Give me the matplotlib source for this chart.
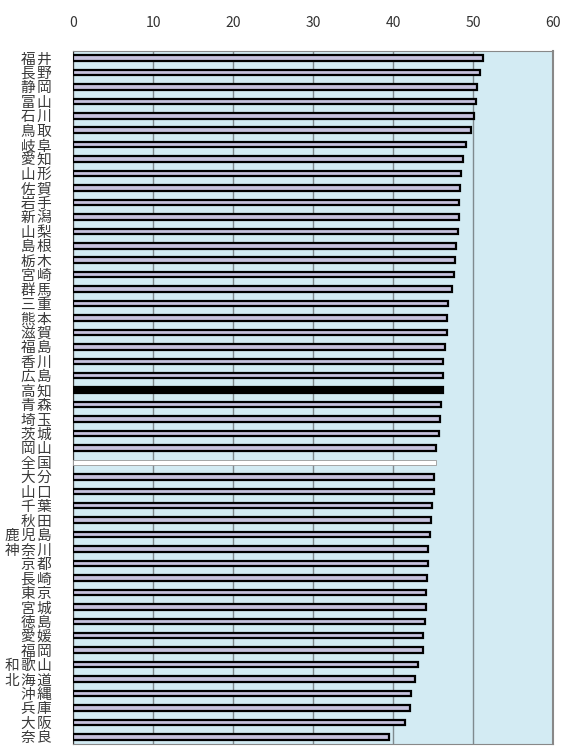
import matplotlib
matplotlib.use("Agg")
import matplotlib.pyplot as plt

plt.rcParams['font.family'] = ['Noto Sans CJK JP', 'DejaVu Sans']

# 都道府県と値
prefs = ["福井", "長野", "静岡", "富山", "石川", "鳥取", "岐阜", "愛知", "山形", "佐賀",
         "岩手", "新潟", "山梨", "島根", "栃木", "宮崎", "群馬", "三重", "熊本", "滋賀",
         "福島", "香川", "広島", "高知", "青森", "埼玉", "茨城", "岡山", "全国", "大分",
         "山口", "千葉", "秋田", "鹿児島", "神奈川", "京都", "長崎", "東京", "宮城", "徳島",
         "愛媛", "福岡", "和歌山", "北海道", "沖縄", "兵庫", "大阪", "奈良"]
values = [51.2, 50.9, 50.5, 50.4, 50.1, 49.7, 49.1, 48.7, 48.5, 48.4,
          48.2, 48.2, 48.1, 47.9, 47.7, 47.6, 47.4, 46.9, 46.8, 46.7,
          46.5, 46.3, 46.2, 46.2, 46.0, 45.9, 45.7, 45.4, 45.4, 45.1,
          45.1, 44.9, 44.7, 44.6, 44.4, 44.4, 44.3, 44.1, 44.1, 44.0,
          43.7, 43.7, 43.1, 42.7, 42.2, 42.1, 41.5, 39.5]
xticks = [0, 10, 20, 30, 40, 50, 60]

fig = plt.figure(figsize=(5.62, 7.47), dpi=100)
ax = fig.add_axes([0.13, 0.004, 0.854, 0.928])
ax.set_facecolor('#d3ebf3')

y = list(range(len(prefs)))
face = []
edge = []
lw = []
for p in prefs:
    if p == "高知":
        face.append('black'); edge.append('black'); lw.append(1.6)
    elif p == "全国":
        face.append('white'); edge.append('#999999'); lw.append(0.6)
    else:
        face.append('#c6c2de'); edge.append('black'); lw.append(1.6)

ax.barh(y, values, height=0.38, color=face, edgecolor=edge, linewidth=lw, zorder=3)

ax.set_xlim(0, 60)
ax.set_ylim(len(prefs) - 0.5, -0.5)
ax.set_xticks(xticks)
ax.xaxis.tick_top()
ax.tick_params(axis='x', length=0, pad=15, labelsize=10, labelcolor='#333333')
ax.set_yticks(y)
ax.set_yticklabels(['\u200a'.join(p) for p in prefs], fontsize=10.5, color='#3a3a3a')
ax.tick_params(axis='y', length=0, pad=15)
ax.grid(axis='x', color='#7f8a8e', linewidth=1, zorder=1)
ax.grid(axis='y', visible=False)

for s in ['top', 'bottom']:
    ax.spines[s].set_color('#888888')
ax.spines['left'].set_color('#333333')
ax.spines['right'].set_color('#888888')
ax.spines['right'].set_linewidth(1.5)

fig.savefig('out.png', dpi=100)
